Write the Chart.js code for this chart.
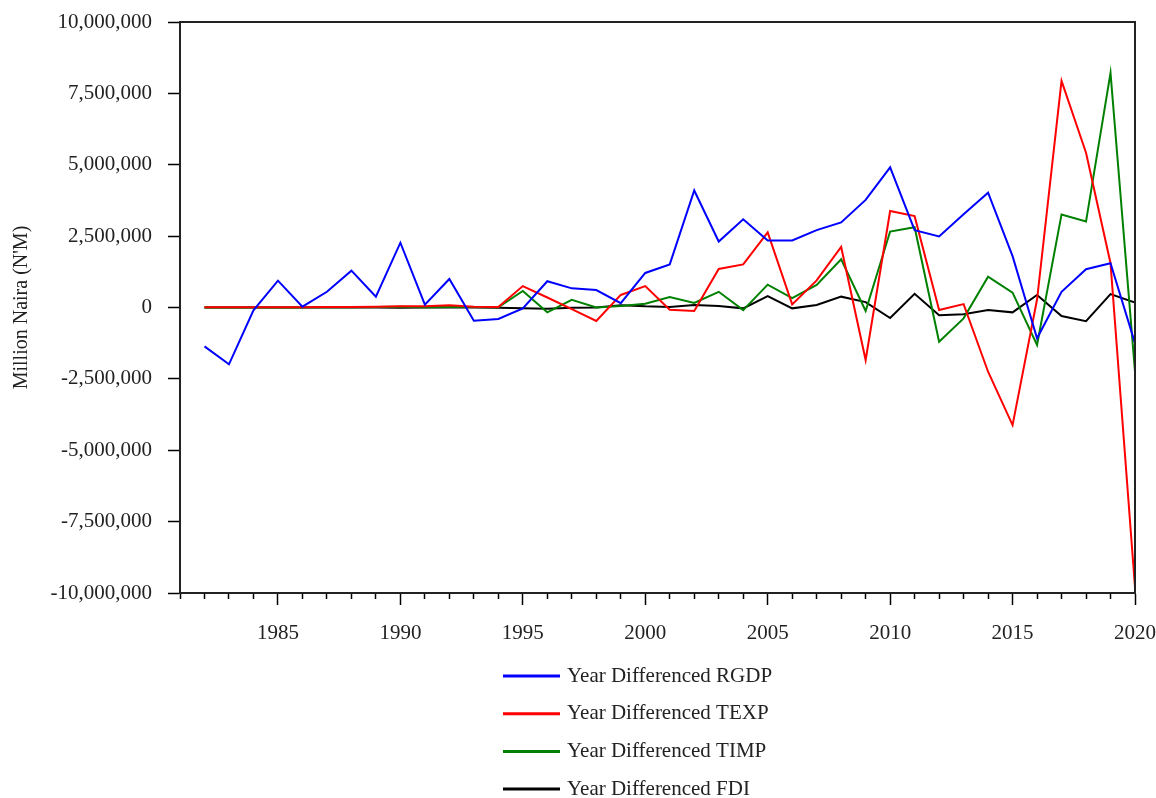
<!DOCTYPE html>
<html>
<head>
<meta charset="utf-8">
<script src="https://cdn.jsdelivr.net/npm/chart.js@4.4.1/dist/chart.umd.min.js"></script>
<style>
  html, body { margin: 0; padding: 0; background: #fff; }
  canvas { display: block; }
</style>
</head>
<body>
<canvas id="diffChart" width="1156" height="798"></canvas>
<script>
const years = [1982, 1983, 1984, 1985, 1986, 1987, 1988, 1989, 1990, 1991,
  1992, 1993, 1994, 1995, 1996, 1997, 1998, 1999, 2000, 2001,
  2002, 2003, 2004, 2005, 2006, 2007, 2008, 2009, 2010, 2011,
  2012, 2013, 2014, 2015, 2016, 2017, 2018, 2019, 2020];

// Million Naira, year-on-year differences
const rgdp = [-1360000, -1990000, -100000, 940000, 30000, 550000, 1290000, 380000, 2270000, 100000,
  1000000, -460000, -400000, -30000, 920000, 670000, 610000, 150000, 1210000, 1510000,
  4100000, 2310000, 3090000, 2350000, 2350000, 2710000, 2980000, 3770000, 4910000, 2710000,
  2490000, 3270000, 4020000, 1800000, -1080000, 550000, 1340000, 1550000, -1250000];
const texp = [10000, 10000, 10000, 10000, 10000, 20000, 20000, 30000, 40000, 40000,
  80000, 30000, 20000, 750000, 350000, -60000, -470000, 440000, 750000, -80000,
  -120000, 1350000, 1510000, 2630000, 110000, 950000, 2120000, -1840000, 3380000, 3200000,
  -90000, 120000, -2250000, -4120000, 280000, 7940000, 5420000, 1550000, -9800000];
const timp = [0, 0, 0, 0, 0, 10000, 10000, 20000, 30000, 10000,
  20000, 20000, 10000, 580000, -170000, 270000, 0, 50000, 130000, 370000,
  160000, 550000, -90000, 800000, 330000, 790000, 1690000, -120000, 2660000, 2810000,
  -1200000, -380000, 1080000, 520000, -1310000, 3260000, 3010000, 8220000, -2250000];
const fdi = [0, 0, 0, 0, 0, 0, 0, 0, -10000, 0,
  0, 0, -10000, -30000, -40000, -10000, 0, 80000, 40000, 20000,
  90000, 50000, -30000, 400000, -30000, 90000, 380000, 190000, -370000, 480000,
  -270000, -240000, -90000, -170000, 440000, -300000, -480000, 470000, 170000];

const seriesNames = ["Year Differenced RGDP", "Year Differenced TEXP", "Year Differenced TIMP", "Year Differenced FDI"];
const seriesColors = ["#0000ff", "#ff0000", "#008000", "#000000"];
const yTicks = [-10000000, -7500000, -5000000, -2500000, 0, 2500000, 5000000, 7500000, 10000000];

const serif = "'Liberation Serif', 'Times New Roman', serif";

function toPoints(values) {
  return values.map(function (v, i) { return { x: years[i], y: v }; });
}

// stacked legend under the plot plus the box round the plot area
const frameAndLegend = {
  id: "frameAndLegend",
  afterDraw(chart) {
    const ctx = chart.ctx;
    const area = chart.chartArea;
    ctx.save();
    ctx.strokeStyle = "#222";
    ctx.lineWidth = 2;
    ctx.strokeRect(area.left, area.top, area.right - area.left, area.bottom - area.top);

    chart.data.datasets.forEach(function (ds, i) {
      const y = area.bottom + 83 + i * 37.7;
      ctx.strokeStyle = ds.borderColor;
      ctx.lineWidth = 3;
      ctx.beginPath();
      ctx.moveTo(503, y);
      ctx.lineTo(560, y);
      ctx.stroke();
      ctx.fillStyle = "#222";
      ctx.font = "21px " + serif;
      ctx.textBaseline = "middle";
      ctx.textAlign = "left";
      ctx.fillText(ds.label, 567, y);
    });
    ctx.restore();
  }
};

const datasets = [rgdp, texp, timp, fdi].map(function (values, i) {
  return {
    label: seriesNames[i],
    data: toPoints(values),
    borderColor: seriesColors[i],
    backgroundColor: seriesColors[i],
    borderWidth: 2,
    pointRadius: 0,
    tension: 0,
    fill: false
  };
});

new Chart(document.getElementById("diffChart"), {
  type: "line",
  data: { datasets: datasets },
  options: {
    responsive: false,
    animation: false,
    layout: { padding: { top: 22, right: 21, bottom: 145, left: 0 } },
    plugins: {
      legend: { display: false },
      tooltip: { enabled: false }
    },
    scales: {
      x: {
        type: "linear",
        min: 1981,
        max: 2020,
        afterFit: function (scale) {
          scale.height = 60;
          scale.paddingLeft = 0;
          scale.paddingRight = 0;
        },
        ticks: {
          stepSize: 1,
          autoSkip: false,
          maxRotation: 0,
          padding: 16,
          color: "#222",
          font: { family: serif, size: 21 },
          callback: function (value) { return value % 5 === 0 ? String(value) : ""; }
        },
        grid: {
          drawOnChartArea: false,
          tickLength: 12,
          tickColor: "#000",
          tickWidth: 1.5,
          tickBorderDash: function (c) {
            return c.tick && c.tick.value % 5 === 0 ? [] : [5, 30];
          }
        },
        border: { color: "#000", width: 2 }
      },
      y: {
        min: yTicks[0],
        max: yTicks[yTicks.length - 1],
        afterFit: function (scale) {
          scale.width = 180;
          scale.paddingTop = 0;
          scale.paddingBottom = 0;
        },
        afterBuildTicks: function (scale) {
          scale.ticks = yTicks.map(function (v) { return { value: v }; });
        },
        ticks: {
          padding: 16,
          color: "#222",
          font: { family: serif, size: 21 },
          callback: function (value) { return Number(value).toLocaleString("en-US"); }
        },
        grid: {
          drawOnChartArea: false,
          tickLength: 12,
          tickColor: "#000",
          tickWidth: 1.5
        },
        border: { color: "#000", width: 2 },
        title: {
          display: true,
          text: "Million Naira (N'M)",
          color: "#222",
          font: { family: serif, size: 20 },
          padding: { top: 10, bottom: 4 }
        }
      }
    }
  },
  plugins: [frameAndLegend]
});
</script>
</body>
</html>
